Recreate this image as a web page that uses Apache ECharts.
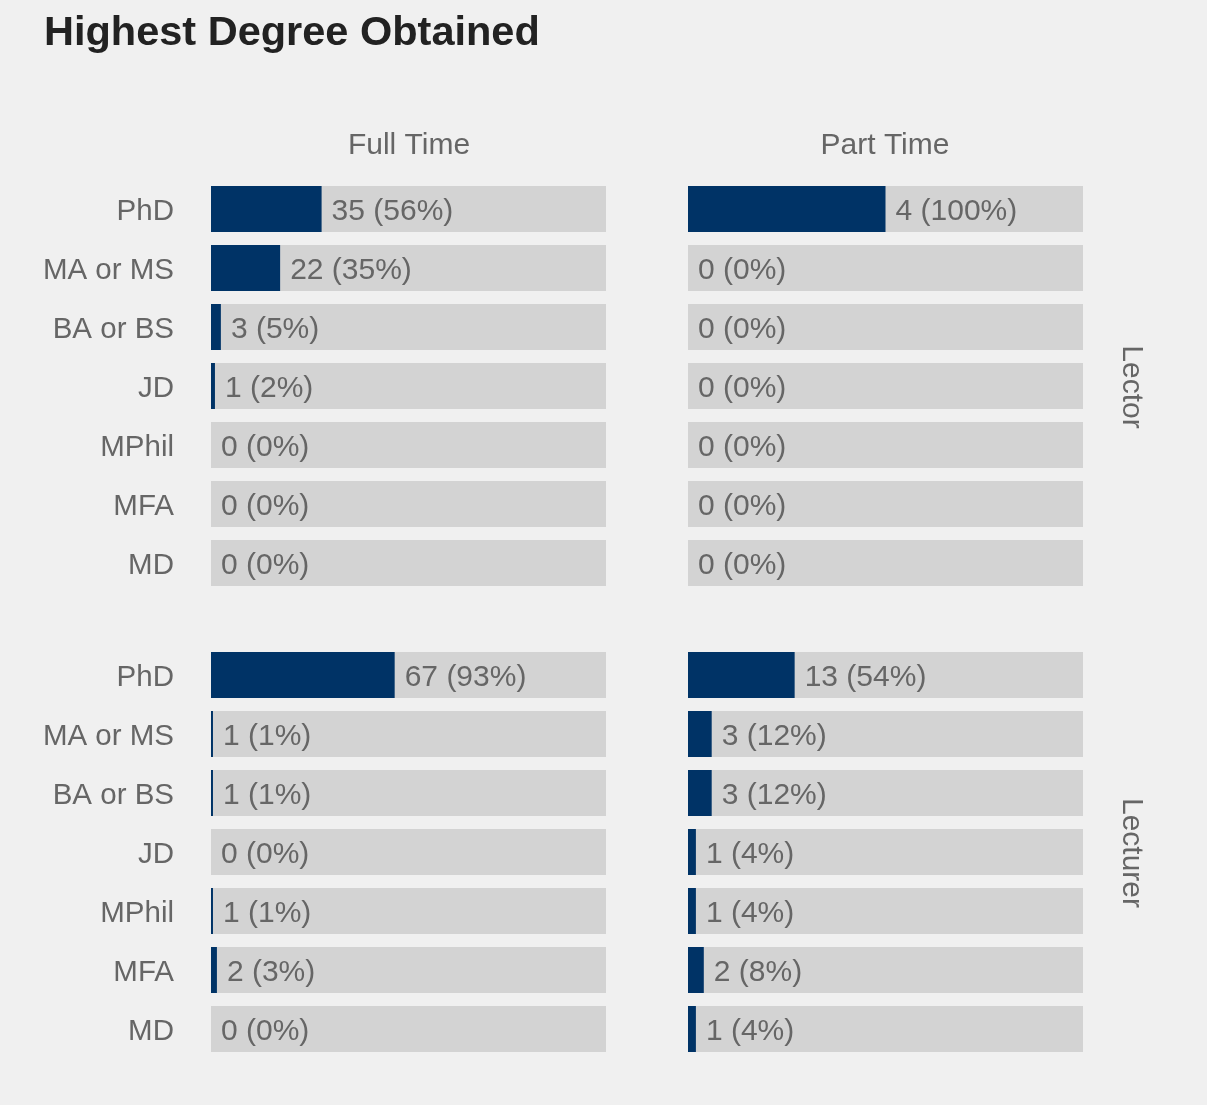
<!DOCTYPE html>
<html>
<head>
<meta charset="utf-8">
<title>Highest Degree Obtained</title>
<script src="https://cdn.jsdelivr.net/npm/echarts@6/dist/echarts.min.js"></script>
<style>
  html, body { margin: 0; padding: 0; background: #f0f0f0; }
</style>
</head>
<body>
<!-- chart container -->
<div id="main" style="width: 1207px;height:1105px;"></div>
<script>
var degrees = ['PhD', 'MA or MS', 'BA or BS', 'JD', 'MPhil', 'MFA', 'MD'];
var columns = ['Full Time', 'Part Time'];
var rows = ['Lector', 'Lecturer'];

// counts and percentages per panel
var lectorFullCount = [35, 22, 3, 1, 0, 0, 0];
var lectorFullPct = [56, 35, 5, 2, 0, 0, 0];
var lectorPartCount = [4, 0, 0, 0, 0, 0, 0];
var lectorPartPct = [100, 0, 0, 0, 0, 0, 0];
var lecturerFullCount = [67, 1, 1, 0, 1, 2, 0];
var lecturerFullPct = [93, 1, 1, 0, 1, 3, 0];
var lecturerPartCount = [13, 3, 3, 1, 1, 2, 1];
var lecturerPartPct = [54, 12, 12, 4, 4, 8, 4];

var panels = [
  { count: lectorFullCount, pct: lectorFullPct, left: 211, top: 179.5 },
  { count: lectorPartCount, pct: lectorPartPct, left: 688, top: 179.5 },
  { count: lecturerFullCount, pct: lecturerFullPct, left: 211, top: 645.5 },
  { count: lecturerPartCount, pct: lecturerPartPct, left: 688, top: 645.5 }
];

var textColor = '#666666';
var fontFamily = '"Liberation Sans", Arial, sans-serif';

var chartDom = document.getElementById('main');
var myChart = echarts.init(chartDom);

var grids = [], xAxes = [], yAxes = [], series = [];
panels.forEach(function (p, i) {
  grids.push({ left: p.left, top: p.top, width: 395, height: 413 });
  xAxes.push({
    gridIndex: i, type: 'value', min: 0, max: 200,
    show: false
  });
  yAxes.push({
    gridIndex: i, type: 'category', data: degrees, inverse: true,
    axisLine: { show: false }, axisTick: { show: false },
    axisLabel: {
      show: i % 2 === 0, margin: 37,
      formatter: '{a|{value}}',
      rich: {
        a: { color: textColor, fontSize: 29.5, fontFamily: fontFamily, padding: [6, 0, 0, 0] }
      }
    }
  });
  series.push({
    type: 'bar', xAxisIndex: i, yAxisIndex: i,
    data: p.pct, barWidth: 46,
    itemStyle: { color: '#003366' },
    showBackground: true,
    backgroundStyle: { color: '#d3d3d3' },
    label: {
      show: true, position: 'right', distance: 10,
      rich: {
        a: { color: textColor, fontSize: 30, fontFamily: fontFamily, padding: [6, 0, 0, 0] }
      },
      formatter: function (params) {
        return '{a|' + p.count[params.dataIndex] + ' (' + p.pct[params.dataIndex] + '%)}';
      }
    },
    animation: false
  });
});

var stripStyle = { fill: textColor, fontSize: 30, fontFamily: fontFamily, align: 'center', verticalAlign: 'middle' };

var option = {
  backgroundColor: '#f0f0f0',
  title: {
    text: 'Highest Degree Obtained',
    left: 44, top: 13, padding: 0,
    textStyle: { color: '#222222', fontSize: 41.5, fontWeight: 'bold', fontFamily: fontFamily }
  },
  grid: grids,
  xAxis: xAxes,
  yAxis: yAxes,
  series: series,
  graphic: [
    { type: 'text', x: 409, y: 146, style: Object.assign({ text: columns[0] }, stripStyle) },
    { type: 'text', x: 885, y: 146, style: Object.assign({ text: columns[1] }, stripStyle) },
    { type: 'text', x: 1131, y: 387, rotation: -Math.PI / 2, style: Object.assign({ text: rows[0] }, stripStyle) },
    { type: 'text', x: 1131, y: 853, rotation: -Math.PI / 2, style: Object.assign({ text: rows[1] }, stripStyle) }
  ]
};

option && myChart.setOption(option);
</script>
</body>
</html>
